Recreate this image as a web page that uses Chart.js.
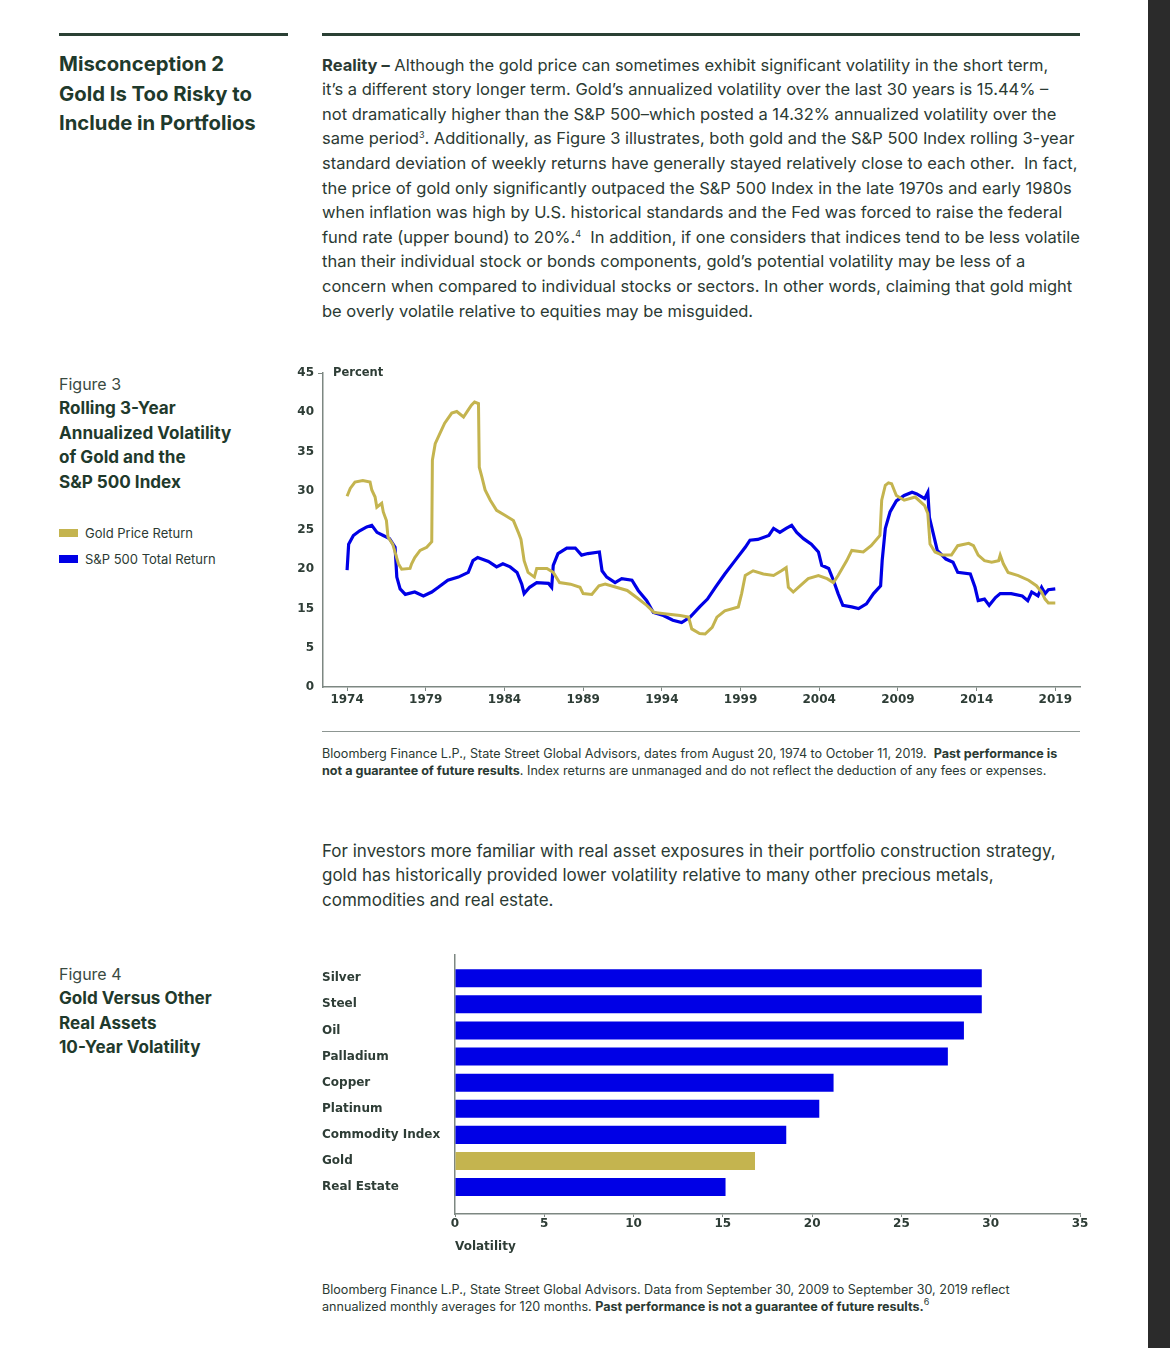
<!DOCTYPE html>
<html>
<head>
<meta charset="utf-8">
<title>Gold volatility</title>
<script src="https://cdn.jsdelivr.net/npm/chart.js@4.4.1/dist/chart.umd.min.js"></script>
<style>
  html, body { margin: 0; padding: 0; background: #fff; }
  body { width: 1170px; height: 1348px; position: relative; overflow: hidden; font-family: Inter, Roboto, sans-serif; color: #2b3a33; }
  .abs { position: absolute; }
  .rule { position: absolute; height: 3px; background: #2a4034; }
  .head { left: 59px; font-weight: 700; font-size: 20.3px; line-height: 29.5px; color: #1f3a2c; white-space: nowrap; }
  .body { left: 322px; font-size: 16.5px; line-height: 24.6px; white-space: nowrap; }
  .cap { left: 59px; font-size: 16px; line-height: 24.5px; color: #1f3a2c; white-space: nowrap; }
  .cap .fig { font-weight: 400; color: #3a4a42; }
  .cap b { font-weight: 700; font-size: 17.1px; }
  .legend { left: 59px; font-size: 13px; line-height: 26px; color: #2b3a33; }
  .legend span.sw { display: inline-block; width: 19px; height: 8px; margin-right: 7px; vertical-align: 1px; }
  .src { left: 322px; font-size: 12.6px; line-height: 17px; white-space: nowrap; color: #2b3a33; }
  .src b { font-weight: 700; }
  sup { font-size: 9px; line-height: 0; vertical-align: 6px; }
  canvas { position: absolute; }
</style>
</head>
<body>
<div class="rule" style="left:59px;top:33px;width:229px;"></div>
<div class="rule" style="left:322px;top:33px;width:758px;"></div>
<div class="abs" style="left:1148px;top:0;width:22px;height:1348px;background:#2b2b2b;"></div>

<div class="abs head" style="top:49px;">Misconception 2<br>Gold Is Too Risky to<br>Include in Portfolios</div>

<div class="abs body" style="top:52.7px;">
<b>Reality –</b> Although the gold price can sometimes exhibit significant volatility in the short term,<br>
it’s a different story longer term. Gold’s annualized volatility over the last 30 years is 15.44% –<br>
not dramatically higher than the S&amp;P 500–which posted a 14.32% annualized volatility over the<br>
same period<sup>3</sup>. Additionally, as Figure 3 illustrates, both gold and the S&amp;P 500 Index rolling 3-year<br>
standard deviation of weekly returns have generally stayed relatively close to each other.&nbsp; In fact,<br>
the price of gold only significantly outpaced the S&amp;P 500 Index in the late 1970s and early 1980s<br>
when inflation was high by U.S. historical standards and the Fed was forced to raise the federal<br>
fund rate (upper bound) to 20%.<sup>4</sup>&nbsp; In addition, if one considers that indices tend to be less volatile<br>
than their individual stock or bonds components, gold’s potential volatility may be less of a<br>
concern when compared to individual stocks or sectors. In other words, claiming that gold might<br>
be overly volatile relative to equities may be misguided.
</div>

<div class="abs cap" style="top:371.8px;"><span class="fig">Figure 3</span><br><b>Rolling 3-Year<br>Annualized Volatility<br>of Gold and the<br>S&amp;P 500 Index</b></div>

<div class="abs legend" style="top:520px;">
<div><span class="sw" style="background:#c4b44f"></span>Gold Price Return</div>
<div><span class="sw" style="background:#0000e6"></span>S&amp;P 500 Total Return</div>
</div>

<canvas id="lineChart" style="left:290px;top:360px;" width="800" height="355"></canvas>
<div class="abs" style="left:333px;top:365px;font:bold 11.5px 'DejaVu Sans';color:#2e3d36;">Percent</div>

<div class="abs" style="left:322px;top:731px;width:758px;height:1px;background:#8d9692;"></div>
<div class="abs src" style="top:744.5px;">Bloomberg Finance L.P., State Street Global Advisors, dates from August 20, 1974 to October 11, 2019.&nbsp; <b>Past performance is</b><br><b>not a guarantee of future results</b>. Index returns are unmanaged and do not reflect the deduction of any fees or expenses.</div>

<div class="abs body" style="top:838.7px;line-height:24.5px;font-size:17px;">For investors more familiar with real asset exposures in their portfolio construction strategy,<br>gold has historically provided lower volatility relative to many other precious metals,<br>commodities and real estate.</div>

<div class="abs cap" style="top:961.8px;"><span class="fig">Figure 4</span><br><b>Gold Versus Other<br>Real Assets<br>10-Year Volatility</b></div>

<canvas id="barChart" style="left:316px;top:945px;" width="780" height="315"></canvas>

<div class="abs src" style="top:1280.5px;">Bloomberg Finance L.P., State Street Global Advisors. Data from September 30, 2009 to September 30, 2019 reflect<br>annualized monthly averages for 120 months. <b>Past performance is not a guarantee of future results.</b><sup>6</sup></div>

<script>
// Figure 3 data: rolling 3-year annualized volatility (decimal years)
const goldYears = [1974.0, 1974.2, 1974.5, 1975.0, 1975.46, 1975.57, 1975.78, 1975.89, 1976.2, 1976.3, 1976.5, 1976.6, 1976.9, 1977.26, 1977.47, 1978.0, 1978.1, 1978.3, 1978.64, 1979.06, 1979.38, 1979.42, 1979.6, 1979.9, 1980.2, 1980.65, 1980.97, 1981.4, 1981.7, 1981.9, 1982.1, 1982.35, 1982.4, 1982.56, 1982.77, 1983.1, 1983.5, 1984.0, 1984.57, 1984.9, 1985.05, 1985.25, 1985.5, 1985.9, 1986.05, 1986.7, 1987.1, 1987.5, 1988.2, 1988.8, 1989.0, 1989.55, 1990.0, 1990.4, 1991.1, 1991.8, 1992.4, 1993.04, 1993.5, 1994.3, 1995.16, 1995.7, 1995.9, 1996.4, 1996.75, 1997.2, 1997.5, 1998.0, 1998.86, 1999.07, 1999.3, 1999.8, 2000.45, 2001.1, 2001.6, 2001.9, 2002.04, 2002.35, 2002.8, 2003.3, 2003.95, 2004.5, 2004.9, 2005.2, 2005.75, 2006.07, 2006.8, 2007.3, 2007.86, 2007.97, 2008.2, 2008.4, 2008.6, 2008.9, 2009.4, 2010.1, 2010.7, 2010.9, 2011.04, 2011.36, 2011.8, 2012.4, 2012.8, 2013.5, 2013.8, 2014.1, 2014.5, 2014.96, 2015.4, 2015.5, 2015.7, 2016.0, 2016.65, 2017.3, 2017.8, 2018.13, 2018.35, 2018.56, 2019.0];
const goldVals = [29.3, 30.3, 31.1, 31.3, 31.1, 30.1, 29.2, 27.9, 28.4, 27.3, 26.2, 24.1, 23.2, 20.7, 20.0, 20.1, 20.7, 21.5, 22.4, 22.8, 23.5, 33.9, 36.0, 37.3, 38.6, 39.9, 40.1, 39.4, 40.3, 40.9, 41.3, 41.1, 33.0, 31.8, 30.1, 28.8, 27.5, 26.9, 26.2, 24.6, 23.8, 21.1, 19.6, 19.0, 20.1, 20.1, 19.6, 18.3, 18.1, 17.7, 16.9, 16.8, 17.9, 18.1, 17.7, 17.3, 16.4, 15.4, 14.5, 14.3, 14.1, 13.9, 12.4, 11.8, 11.75, 12.6, 13.9, 14.7, 15.2, 16.9, 19.2, 19.8, 19.4, 19.2, 19.8, 20.2, 17.7, 17.1, 17.9, 18.8, 19.2, 18.8, 18.3, 19.2, 21.1, 22.4, 22.2, 23.0, 24.3, 28.8, 30.7, 31.0, 30.9, 29.4, 28.8, 29.2, 28.1, 27.1, 23.2, 22.2, 21.8, 21.8, 23.0, 23.3, 23.0, 21.8, 21.1, 20.9, 21.1, 21.8, 20.7, 19.6, 19.2, 18.6, 17.9, 17.1, 16.2, 15.7, 15.7];
const spxYears = [1974.0, 1974.1, 1974.4, 1974.8, 1975.25, 1975.57, 1975.9, 1976.3, 1976.7, 1977.05, 1977.16, 1977.37, 1977.7, 1978.3, 1978.85, 1979.38, 1979.8, 1980.4, 1981.07, 1981.7, 1982.0, 1982.3, 1982.98, 1983.5, 1983.9, 1984.36, 1984.8, 1985.1, 1985.25, 1985.6, 1986.05, 1986.8, 1987.0, 1987.1, 1987.4, 1987.96, 1988.5, 1988.9, 1989.3, 1990.03, 1990.2, 1990.5, 1991.03, 1991.45, 1992.1, 1992.5, 1993.04, 1993.46, 1994.1, 1994.7, 1995.26, 1995.8, 1996.4, 1996.9, 1997.4, 1998.0, 1998.65, 1999.3, 1999.6, 2000.1, 2000.8, 2001.1, 2001.5, 2001.9, 2002.25, 2002.57, 2003.0, 2003.5, 2003.95, 2004.16, 2004.6, 2004.9, 2005.2, 2005.5, 2006.06, 2006.5, 2007.0, 2007.45, 2007.9, 2008.0, 2008.2, 2008.5, 2008.9, 2009.4, 2009.9, 2010.2, 2010.7, 2010.9, 2011.0, 2011.3, 2011.5, 2012.05, 2012.5, 2012.8, 2013.6, 2013.9, 2014.1, 2014.5, 2014.8, 2015.2, 2015.5, 2016.2, 2016.9, 2017.25, 2017.5, 2017.9, 2018.13, 2018.35, 2018.56, 2019.0];
const spxVals = [19.9, 23.2, 24.3, 24.9, 25.4, 25.6, 24.7, 24.3, 23.9, 22.8, 19.0, 17.5, 16.8, 17.1, 16.6, 17.1, 17.7, 18.6, 19.0, 19.6, 21.1, 21.5, 21.0, 20.3, 20.7, 20.3, 19.6, 18.1, 16.9, 17.7, 18.3, 18.2, 17.7, 20.5, 22.0, 22.7, 22.7, 21.8, 22.0, 22.2, 19.8, 19.0, 18.3, 18.8, 18.6, 17.3, 16.0, 14.5, 14.1, 13.5, 13.2, 13.9, 15.2, 16.2, 17.7, 19.4, 21.1, 22.8, 23.7, 23.8, 24.3, 25.2, 24.7, 25.2, 25.6, 24.7, 23.9, 23.2, 22.2, 20.5, 20.1, 18.6, 16.9, 15.4, 15.2, 15.0, 15.6, 16.9, 17.9, 21.1, 25.2, 27.3, 28.7, 29.4, 29.8, 29.6, 29.0, 29.8, 26.6, 24.1, 22.4, 21.3, 20.9, 19.6, 19.4, 17.7, 16.0, 16.2, 15.4, 16.4, 16.9, 16.9, 16.6, 16.0, 17.1, 16.6, 17.7, 16.9, 17.4, 17.5];
const xTickYears = [1974, 1979, 1984, 1989, 1994, 1999, 2004, 2009, 2014, 2019];
const yTickValues = [5, 10, 15, 20, 25, 30, 35, 40, 45];
const yTickLabels = ['0', '5', '15', '20', '25', '30', '35', '40', '45'];

// Figure 4 data: 10-year volatility
const assetNames = ['Silver', 'Steel', 'Oil', 'Palladium', 'Copper', 'Platinum', 'Commodity Index', 'Gold', 'Real Estate'];
const assetVols = [29.5, 29.5, 28.5, 27.6, 21.2, 20.4, 18.55, 16.8, 15.15];
const volTicks = [0, 5, 10, 15, 20, 25, 30, 35];

const GOLD = '#c4b44f';
const BLUE = '#0000e6';
const AXIS = '#7d8782';
const TEXT = '#2e3d36';
const tickFont = { family: 'DejaVu Sans', size: 12, weight: 'bold' };

const toPoints = (xs, ys) => xs.map((x, i) => ({ x: x, y: ys[i] }));

new Chart(document.getElementById('lineChart'), {
  type: 'line',
  data: {
    datasets: [
      { label: 'Gold Price Return', data: toPoints(goldYears, goldVals), borderColor: GOLD, borderWidth: 3, pointRadius: 0, tension: 0 },
      { label: 'S&P 500 Total Return', data: toPoints(spxYears, spxVals), borderColor: BLUE, borderWidth: 3.2, pointRadius: 0, tension: 0 }
    ]
  },
  options: {
    responsive: false,
    animation: false,
    layout: { padding: { top: 13, right: 10, left: 0, bottom: 0 } },
    plugins: { legend: { display: false }, tooltip: { enabled: false } },
    scales: {
      x: {
        type: 'linear',
        min: 1972.47,
        max: 2020.57,
        afterBuildTicks: s => { s.ticks = xTickYears.map(v => ({ value: v })); },
        afterFit: s => { s.height = 28; },
        grid: { drawOnChartArea: false, tickLength: 4, color: AXIS },
        border: { color: AXIS, width: 1.5 },
        ticks: { font: tickFont, color: TEXT, padding: 2, maxRotation: 0, callback: v => String(v) }
      },
      y: {
        min: 5,
        max: 45,
        afterBuildTicks: s => { s.ticks = yTickValues.map(v => ({ value: v })); },
        afterFit: s => { s.width = 33; },
        grid: { drawOnChartArea: false, tickLength: 5, color: c => (c.tick && c.tick.value === 45 ? AXIS : 'rgba(0,0,0,0)') },
        border: { color: AXIS, width: 1.5 },
        ticks: { font: tickFont, color: TEXT, padding: 4, callback: (v, i) => yTickLabels[i] }
      }
    }
  }
});

new Chart(document.getElementById('barChart'), {
  type: 'bar',
  data: {
    datasets: [{
      data: assetVols.map((v, i) => ({ x: v, y: i })),
      backgroundColor: assetNames.map(n => (n === 'Gold' ? GOLD : BLUE)),
      borderWidth: 0,
      barPercentage: 0.69,
      categoryPercentage: 1
    }]
  },
  options: {
    indexAxis: 'y',
    responsive: false,
    animation: false,
    layout: { padding: { top: 10, right: 16, left: 6, bottom: 0 } },
    plugins: { legend: { display: false }, tooltip: { enabled: false } },
    scales: {
      x: {
        type: 'linear',
        min: 0,
        max: 35,
        afterBuildTicks: s => { s.ticks = volTicks.map(v => ({ value: v })); },
        afterFit: s => { s.height = 46; },
        grid: { drawOnChartArea: false, tickLength: 3, color: AXIS },
        border: { color: AXIS, width: 1.5 },
        ticks: { font: tickFont, color: TEXT, padding: 0, maxRotation: 0 },
        title: { display: true, text: 'Volatility', align: 'start', font: tickFont, color: TEXT, padding: { top: 0, bottom: 6 } }
      },
      y: {
        type: 'linear',
        reverse: true,
        offset: false,
        min: -0.88,
        max: 9.03,
        afterBuildTicks: s => { s.ticks = assetNames.map((n, i) => ({ value: i })); },
        afterFit: s => { s.width = 133; },
        grid: { display: false, offset: false },
        border: { color: AXIS, width: 1.5 },
        ticks: { font: tickFont, color: TEXT, crossAlign: 'far', callback: v => assetNames[v] }
      }
    }
  }
});
</script>
</body>
</html>
